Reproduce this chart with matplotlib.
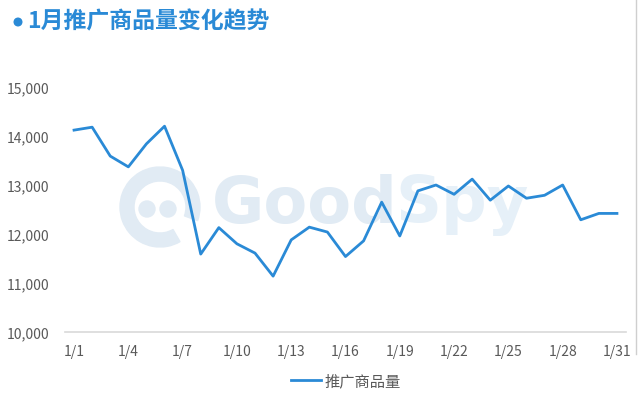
import matplotlib
matplotlib.use("Agg")
from matplotlib import pyplot as plt
from matplotlib.patches import Circle, Wedge

plt.rcParams['font.family'] = ['Noto Sans CJK SC', 'DejaVu Sans']

days = ["1/%d" % d for d in range(1, 32)]
counts = [14120, 14180, 13590, 13370, 13840, 14200, 13300, 11590, 12130, 11800,
          11610, 11140, 11880, 12140, 12040, 11540, 11860, 12650, 11960, 12880,
          13000, 12810, 13120, 12690, 12980, 12730, 12790, 13000, 12290, 12420,
          12420]
yticks = [10000, 11000, 12000, 13000, 14000, 15000]
series_name = "推广商品量"
title_str = "1月推广商品量变化趋势"

blue = "#2a8ad6"
gray = "#595959"

fig = plt.figure(figsize=(6.4, 4.02), dpi=100)

# watermark in a background axes
bg = fig.add_axes([0, 0, 1, 1], zorder=-1)
bg.set_xlim(0, 640)
bg.set_ylim(402, 0)
bg.axis("off")
wm = "#e1ebf4"
wm2 = "#e6f0f8"
bg.text(212, 205, "Good", color=wm, fontsize=46, fontweight="bold",
        family="DejaVu Sans", ha="left", va="center")
bg.text(395, 205, "Spy", color=wm2, fontsize=46, fontweight="bold",
        family="DejaVu Sans", ha="left", va="center")
bg.add_patch(Wedge((160, 208), 40, 60, 20, width=14, color=wm))
for cx in (147, 168):
    bg.add_patch(Circle((cx, 210), 8, color=wm))
bg.plot([636, 636], [0, 355], color="#cfcfcf", linewidth=1)

ax = fig.add_axes([65/640, 1-333/402, (626-65)/640, (333-88)/402])
x = list(range(len(days)))
ax.plot(x, counts, color=blue, linewidth=2, label=series_name, zorder=3)
ax.patch.set_alpha(0)

ax.set_xlim(-0.5, len(days) - 0.5)
ax.set_ylim(10000, 15000)
ax.set_yticks(yticks)
ax.set_yticklabels(["{:,}".format(v) for v in yticks], color=gray, fontsize=10)
ax.set_xticks(x[::3])
ax.set_xticklabels(days[::3], color=gray, fontsize=10)
ax.tick_params(length=0, pad=9)
ax.tick_params(axis='y', pad=11)
for s in ["top", "right", "left"]:
    ax.spines[s].set_visible(False)
ax.spines["bottom"].set_color("#d9d9d9")
ax.spines["bottom"].set_linewidth(1.2)

leg = ax.legend(loc="center", bbox_to_anchor=(0.5, -0.2), frameon=False,
                fontsize=11, handlelength=2.0, handletextpad=0.2)
for t in leg.get_texts():
    t.set_color(gray)

# title
bg.add_patch(Circle((18, 23), 3.8, color=blue))
bg.text(27, 22, title_str, color=blue, fontsize=16.5, fontweight="bold",
        ha="left", va="center")

fig.savefig("out.png", dpi=100)
